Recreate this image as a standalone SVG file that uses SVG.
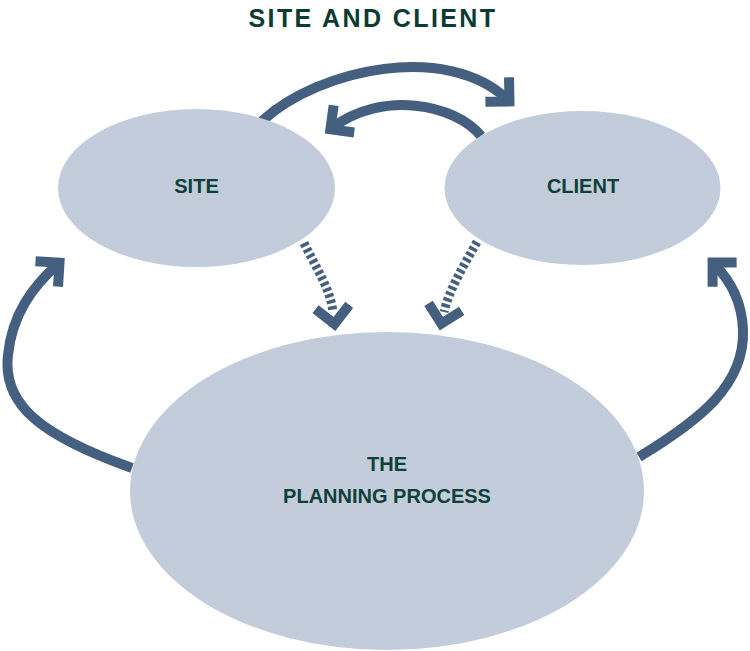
<svg xmlns="http://www.w3.org/2000/svg" width="750" height="651" viewBox="0 0 750 651">
<style>
.node{fill:#c2ccdb}
.lbl{font-family:"Liberation Sans",Arial,sans-serif;font-size:20px;font-weight:bold;fill:#0e4038;text-anchor:middle}
.title{font-family:"Liberation Sans",Arial,sans-serif;font-size:25px;font-weight:bold;fill:#0b3b33;text-anchor:middle;letter-spacing:2.4px}
.arr{fill:none;stroke:#455f80;stroke-width:10}
.dash{fill:none;stroke:#455f80;stroke-width:9;stroke-dasharray:3.5 2.8}
</style>
<defs>
<marker id="chev" markerUnits="userSpaceOnUse" viewBox="-30 -30 40 60" refX="-2" refY="0" markerWidth="40" markerHeight="60" orient="auto" overflow="visible">
<path d="M-17,-17 L0,0 L-17,17" fill="none" stroke="#455f80" stroke-width="10"/>
</marker>
<marker id="chevd" markerUnits="userSpaceOnUse" viewBox="-30 -30 40 60" refX="-12" refY="0" markerWidth="40" markerHeight="60" orient="auto" overflow="visible">
<path d="M-17,-17 L0,0 L-17,17" fill="none" stroke="#455f80" stroke-width="10"/>
</marker>
</defs>
<text class="title" x="373" y="27">SITE AND CLIENT</text>
<g id="connectors">
<path class="arr" d="M262,121 C320,68 448,42 508,100" marker-end="url(#chev)"/>
<path class="arr" d="M481,136 C455,104 382,90 332,128" marker-end="url(#chev)"/>
<path class="arr" d="M132,468 C42,436 2,405 8,355 C12,315 32,287 58,264" marker-end="url(#chev)"/>
<path class="arr" d="M639,457 C700,420 745,385 743,330 C742,300 730,280 714,264" marker-end="url(#chev)"/>
<path class="dash" d="M304,243 C316,268 330,288 333,312" marker-end="url(#chevd)"/>
<path class="dash" d="M477,242 C464,265 449,290 444,312" marker-end="url(#chevd)"/>
</g>
<g id="site">
<ellipse class="node" cx="196.5" cy="188" rx="138.5" ry="79"/>
<text class="lbl" x="196.5" y="193">SITE</text>
</g>
<g id="client">
<ellipse class="node" cx="582.5" cy="188" rx="138" ry="77"/>
<text class="lbl" x="583" y="193">CLIENT</text>
</g>
<g id="planning">
<ellipse class="node" cx="387" cy="491" rx="257" ry="159"/>
<text class="lbl" x="387" y="471">THE</text>
<text class="lbl" x="387" y="503">PLANNING PROCESS</text>
</g>
</svg>
